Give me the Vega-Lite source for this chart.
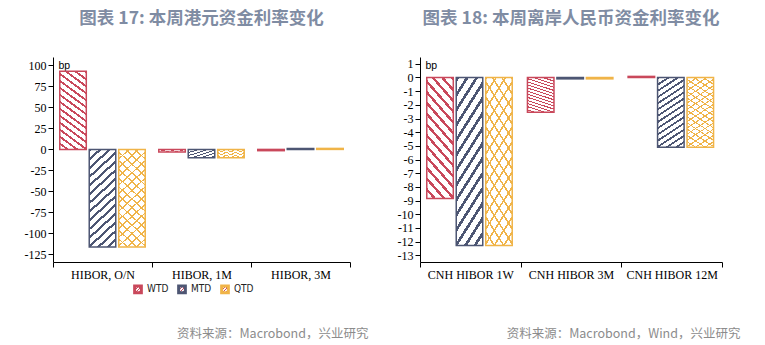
{
  "$schema": "https://vega.github.io/schema/vega-lite/v6.json",
  "padding": {"left": 24, "top": 9, "right": 5, "bottom": 5},
  "spacing": 70,
  "bounds": "flush",
  "config": {
    "view": {"stroke": null},
    "axis": {"grid": false, "domainColor": "#000", "tickColor": "#000", "labelColor": "#000", "labelFont": "Liberation Serif", "labelFontSize": 12, "tickSize": 5, "domainWidth": 1, "tickWidth": 1},
    "title": {"font": "Noto Sans CJK SC", "fontSize": 17.5, "fontWeight": "bold", "color": "#7F8CA3", "anchor": "middle", "frame": "group", "offset": 30},
    "legend": {"labelFont": "Liberation Sans Narrow, DejaVu Sans Condensed, sans-serif", "labelFontSize": 10, "labelColor": "#222", "symbolType": "square", "symbolSize": 45, "symbolStrokeWidth": 3, "columnPadding": 3, "labelOffset": 4, "padding": 0}
  },
  "hconcat": [
    {
      "width": 297, "height": 205,
      "title": {"text": "图表 17: 本周港元资金利率变化"},
      "data": {"values": [
        {"cat": "HIBOR, O/N", "s": "WTD", "v": 93},
        {"cat": "HIBOR, O/N", "s": "MTD", "v": -116},
        {"cat": "HIBOR, O/N", "s": "QTD", "v": -116},
        {"cat": "HIBOR, 1M", "s": "WTD", "v": -3},
        {"cat": "HIBOR, 1M", "s": "MTD", "v": -10},
        {"cat": "HIBOR, 1M", "s": "QTD", "v": -10},
        {"cat": "HIBOR, 3M", "s": "WTD", "v": -1.5},
        {"cat": "HIBOR, 3M", "s": "MTD", "v": 1.2},
        {"cat": "HIBOR, 3M", "s": "QTD", "v": 1.2}
      ]},
      "encoding": {
        "x": {"field": "cat", "type": "nominal", "sort": ["HIBOR, O/N", "HIBOR, 1M", "HIBOR, 3M"], "scale": {"paddingInner": 0, "paddingOuter": 0},
          "axis": {"title": "资料来源：Macrobond，兴业研究", "labelAngle": 0, "tickBand": "extent", "labelPadding": 2, "titleFont": "Noto Sans CJK SC", "titleFontSize": 12.5, "titleFontWeight": "normal", "titleColor": "#8C8C8C", "titleAnchor": "end", "titleAlign": "right", "titleBaseline": "middle", "titleX": 315, "titleY": 71}},
        "xOffset": {"field": "s", "type": "nominal", "scale": {"domain": ["WTD", "MTD", "QTD"], "paddingInner": 0.1, "paddingOuter": 0.23}},
        "y": {"field": "v", "type": "quantitative", "scale": {"domain": [-134, 110], "nice": false},
          "axis": {"values": [-125, -100, -75, -50, -25, 0, 25, 50, 75, 100], "labelExpr": "datum.value", "title": "bp", "titleAngle": 0, "titleX": 5, "titleY": 3, "titleAlign": "left", "titleBaseline": "top", "titleFont": "Liberation Sans", "titleFontSize": 10.5, "titleFontWeight": "normal", "titleColor": "#000"}},
        "y2": {"datum": 0}
      },
      "layer": [
        {"transform": [{"filter": "datum.s === 'WTD'"}],
         "mark": {"type": "bar", "strokeWidth": 1.5, "fill": {"gradient": "linear", "x1": 1, "y1": 0, "x2": 0.706, "y2": 1.176, "stops": [
           {"offset": 0, "color": "#C9485B"}, {"offset": 0.024, "color": "#C9485B"}, {"offset": 0.024, "color": "#fff"}, {"offset": 0.0714, "color": "#fff"},
           {"offset": 0.0714, "color": "#C9485B"}, {"offset": 0.0954, "color": "#C9485B"}, {"offset": 0.0954, "color": "#fff"}, {"offset": 0.1429, "color": "#fff"},
           {"offset": 0.1429, "color": "#C9485B"}, {"offset": 0.1669, "color": "#C9485B"}, {"offset": 0.1669, "color": "#fff"}, {"offset": 0.2143, "color": "#fff"},
           {"offset": 0.2143, "color": "#C9485B"}, {"offset": 0.2383, "color": "#C9485B"}, {"offset": 0.2383, "color": "#fff"}, {"offset": 0.2857, "color": "#fff"},
           {"offset": 0.2857, "color": "#C9485B"}, {"offset": 0.3097, "color": "#C9485B"}, {"offset": 0.3097, "color": "#fff"}, {"offset": 0.3571, "color": "#fff"},
           {"offset": 0.3571, "color": "#C9485B"}, {"offset": 0.3811, "color": "#C9485B"}, {"offset": 0.3811, "color": "#fff"}, {"offset": 0.4286, "color": "#fff"},
           {"offset": 0.4286, "color": "#C9485B"}, {"offset": 0.4526, "color": "#C9485B"}, {"offset": 0.4526, "color": "#fff"}, {"offset": 0.5, "color": "#fff"},
           {"offset": 0.5, "color": "#C9485B"}, {"offset": 0.524, "color": "#C9485B"}, {"offset": 0.524, "color": "#fff"}, {"offset": 0.5714, "color": "#fff"},
           {"offset": 0.5714, "color": "#C9485B"}, {"offset": 0.5954, "color": "#C9485B"}, {"offset": 0.5954, "color": "#fff"}, {"offset": 0.6429, "color": "#fff"},
           {"offset": 0.6429, "color": "#C9485B"}, {"offset": 0.6669, "color": "#C9485B"}, {"offset": 0.6669, "color": "#fff"}, {"offset": 0.7143, "color": "#fff"},
           {"offset": 0.7143, "color": "#C9485B"}, {"offset": 0.7383, "color": "#C9485B"}, {"offset": 0.7383, "color": "#fff"}, {"offset": 0.7857, "color": "#fff"},
           {"offset": 0.7857, "color": "#C9485B"}, {"offset": 0.8097, "color": "#C9485B"}, {"offset": 0.8097, "color": "#fff"}, {"offset": 0.8571, "color": "#fff"},
           {"offset": 0.8571, "color": "#C9485B"}, {"offset": 0.8811, "color": "#C9485B"}, {"offset": 0.8811, "color": "#fff"}, {"offset": 0.9286, "color": "#fff"},
           {"offset": 0.9286, "color": "#C9485B"}, {"offset": 0.9526, "color": "#C9485B"}, {"offset": 0.9526, "color": "#fff"}, {"offset": 1, "color": "#fff"}]}},
         "encoding": {"stroke": {"field": "s", "type": "nominal", "scale": {"domain": ["WTD", "MTD", "QTD"], "range": ["#C9485B", "#4D5673", "#F0B448"]},
           "legend": {"orient": "none", "legendX": 80, "legendY": 227, "direction": "horizontal", "title": null, "encode": {"symbols": {"update": {"fill": {"value": "#fff"}}}}}}}},
        {"transform": [{"filter": "datum.s === 'MTD'"}],
         "mark": {"type": "bar", "strokeWidth": 1.5, "fill": {"gradient": "linear", "x1": 0, "y1": 0, "x2": 0.294, "y2": 1.176, "stops": [
           {"offset": 0, "color": "#4D5673"}, {"offset": 0.024, "color": "#4D5673"}, {"offset": 0.024, "color": "#fff"}, {"offset": 0.0714, "color": "#fff"},
           {"offset": 0.0714, "color": "#4D5673"}, {"offset": 0.0954, "color": "#4D5673"}, {"offset": 0.0954, "color": "#fff"}, {"offset": 0.1429, "color": "#fff"},
           {"offset": 0.1429, "color": "#4D5673"}, {"offset": 0.1669, "color": "#4D5673"}, {"offset": 0.1669, "color": "#fff"}, {"offset": 0.2143, "color": "#fff"},
           {"offset": 0.2143, "color": "#4D5673"}, {"offset": 0.2383, "color": "#4D5673"}, {"offset": 0.2383, "color": "#fff"}, {"offset": 0.2857, "color": "#fff"},
           {"offset": 0.2857, "color": "#4D5673"}, {"offset": 0.3097, "color": "#4D5673"}, {"offset": 0.3097, "color": "#fff"}, {"offset": 0.3571, "color": "#fff"},
           {"offset": 0.3571, "color": "#4D5673"}, {"offset": 0.3811, "color": "#4D5673"}, {"offset": 0.3811, "color": "#fff"}, {"offset": 0.4286, "color": "#fff"},
           {"offset": 0.4286, "color": "#4D5673"}, {"offset": 0.4526, "color": "#4D5673"}, {"offset": 0.4526, "color": "#fff"}, {"offset": 0.5, "color": "#fff"},
           {"offset": 0.5, "color": "#4D5673"}, {"offset": 0.524, "color": "#4D5673"}, {"offset": 0.524, "color": "#fff"}, {"offset": 0.5714, "color": "#fff"},
           {"offset": 0.5714, "color": "#4D5673"}, {"offset": 0.5954, "color": "#4D5673"}, {"offset": 0.5954, "color": "#fff"}, {"offset": 0.6429, "color": "#fff"},
           {"offset": 0.6429, "color": "#4D5673"}, {"offset": 0.6669, "color": "#4D5673"}, {"offset": 0.6669, "color": "#fff"}, {"offset": 0.7143, "color": "#fff"},
           {"offset": 0.7143, "color": "#4D5673"}, {"offset": 0.7383, "color": "#4D5673"}, {"offset": 0.7383, "color": "#fff"}, {"offset": 0.7857, "color": "#fff"},
           {"offset": 0.7857, "color": "#4D5673"}, {"offset": 0.8097, "color": "#4D5673"}, {"offset": 0.8097, "color": "#fff"}, {"offset": 0.8571, "color": "#fff"},
           {"offset": 0.8571, "color": "#4D5673"}, {"offset": 0.8811, "color": "#4D5673"}, {"offset": 0.8811, "color": "#fff"}, {"offset": 0.9286, "color": "#fff"},
           {"offset": 0.9286, "color": "#4D5673"}, {"offset": 0.9526, "color": "#4D5673"}, {"offset": 0.9526, "color": "#fff"}, {"offset": 1, "color": "#fff"}]}},
         "encoding": {"stroke": {"field": "s", "type": "nominal", "scale": {"domain": ["WTD", "MTD", "QTD"], "range": ["#C9485B", "#4D5673", "#F0B448"]}}}},
        {"transform": [{"filter": "datum.s === 'QTD'"}],
         "mark": {"type": "bar", "strokeWidth": 1.5, "fill": {"gradient": "linear", "x1": 0, "y1": 0, "x2": 0.294, "y2": 1.176, "stops": [
           {"offset": 0, "color": "#F0B448"}, {"offset": 0.014, "color": "#F0B448"}, {"offset": 0.014, "color": "#fff"}, {"offset": 0.0714, "color": "#fff"},
           {"offset": 0.0714, "color": "#F0B448"}, {"offset": 0.0854, "color": "#F0B448"}, {"offset": 0.0854, "color": "#fff"}, {"offset": 0.1429, "color": "#fff"},
           {"offset": 0.1429, "color": "#F0B448"}, {"offset": 0.1569, "color": "#F0B448"}, {"offset": 0.1569, "color": "#fff"}, {"offset": 0.2143, "color": "#fff"},
           {"offset": 0.2143, "color": "#F0B448"}, {"offset": 0.2283, "color": "#F0B448"}, {"offset": 0.2283, "color": "#fff"}, {"offset": 0.2857, "color": "#fff"},
           {"offset": 0.2857, "color": "#F0B448"}, {"offset": 0.2997, "color": "#F0B448"}, {"offset": 0.2997, "color": "#fff"}, {"offset": 0.3571, "color": "#fff"},
           {"offset": 0.3571, "color": "#F0B448"}, {"offset": 0.3711, "color": "#F0B448"}, {"offset": 0.3711, "color": "#fff"}, {"offset": 0.4286, "color": "#fff"},
           {"offset": 0.4286, "color": "#F0B448"}, {"offset": 0.4426, "color": "#F0B448"}, {"offset": 0.4426, "color": "#fff"}, {"offset": 0.5, "color": "#fff"},
           {"offset": 0.5, "color": "#F0B448"}, {"offset": 0.514, "color": "#F0B448"}, {"offset": 0.514, "color": "#fff"}, {"offset": 0.5714, "color": "#fff"},
           {"offset": 0.5714, "color": "#F0B448"}, {"offset": 0.5854, "color": "#F0B448"}, {"offset": 0.5854, "color": "#fff"}, {"offset": 0.6429, "color": "#fff"},
           {"offset": 0.6429, "color": "#F0B448"}, {"offset": 0.6569, "color": "#F0B448"}, {"offset": 0.6569, "color": "#fff"}, {"offset": 0.7143, "color": "#fff"},
           {"offset": 0.7143, "color": "#F0B448"}, {"offset": 0.7283, "color": "#F0B448"}, {"offset": 0.7283, "color": "#fff"}, {"offset": 0.7857, "color": "#fff"},
           {"offset": 0.7857, "color": "#F0B448"}, {"offset": 0.7997, "color": "#F0B448"}, {"offset": 0.7997, "color": "#fff"}, {"offset": 0.8571, "color": "#fff"},
           {"offset": 0.8571, "color": "#F0B448"}, {"offset": 0.8711, "color": "#F0B448"}, {"offset": 0.8711, "color": "#fff"}, {"offset": 0.9286, "color": "#fff"},
           {"offset": 0.9286, "color": "#F0B448"}, {"offset": 0.9426, "color": "#F0B448"}, {"offset": 0.9426, "color": "#fff"}, {"offset": 1, "color": "#fff"}]}},
         "encoding": {"stroke": {"field": "s", "type": "nominal", "scale": {"domain": ["WTD", "MTD", "QTD"], "range": ["#C9485B", "#4D5673", "#F0B448"]}}}},
        {"transform": [{"filter": "datum.s === 'QTD'"}],
         "mark": {"type": "bar", "fill": {"gradient": "linear", "x1": 1, "y1": 0, "x2": 0.706, "y2": 1.176, "stops": [
           {"offset": 0, "color": "#F0B448"}, {"offset": 0.014, "color": "#F0B448"}, {"offset": 0.014, "color": "rgba(255,255,255,0)"}, {"offset": 0.0714, "color": "rgba(255,255,255,0)"},
           {"offset": 0.0714, "color": "#F0B448"}, {"offset": 0.0854, "color": "#F0B448"}, {"offset": 0.0854, "color": "rgba(255,255,255,0)"}, {"offset": 0.1429, "color": "rgba(255,255,255,0)"},
           {"offset": 0.1429, "color": "#F0B448"}, {"offset": 0.1569, "color": "#F0B448"}, {"offset": 0.1569, "color": "rgba(255,255,255,0)"}, {"offset": 0.2143, "color": "rgba(255,255,255,0)"},
           {"offset": 0.2143, "color": "#F0B448"}, {"offset": 0.2283, "color": "#F0B448"}, {"offset": 0.2283, "color": "rgba(255,255,255,0)"}, {"offset": 0.2857, "color": "rgba(255,255,255,0)"},
           {"offset": 0.2857, "color": "#F0B448"}, {"offset": 0.2997, "color": "#F0B448"}, {"offset": 0.2997, "color": "rgba(255,255,255,0)"}, {"offset": 0.3571, "color": "rgba(255,255,255,0)"},
           {"offset": 0.3571, "color": "#F0B448"}, {"offset": 0.3711, "color": "#F0B448"}, {"offset": 0.3711, "color": "rgba(255,255,255,0)"}, {"offset": 0.4286, "color": "rgba(255,255,255,0)"},
           {"offset": 0.4286, "color": "#F0B448"}, {"offset": 0.4426, "color": "#F0B448"}, {"offset": 0.4426, "color": "rgba(255,255,255,0)"}, {"offset": 0.5, "color": "rgba(255,255,255,0)"},
           {"offset": 0.5, "color": "#F0B448"}, {"offset": 0.514, "color": "#F0B448"}, {"offset": 0.514, "color": "rgba(255,255,255,0)"}, {"offset": 0.5714, "color": "rgba(255,255,255,0)"},
           {"offset": 0.5714, "color": "#F0B448"}, {"offset": 0.5854, "color": "#F0B448"}, {"offset": 0.5854, "color": "rgba(255,255,255,0)"}, {"offset": 0.6429, "color": "rgba(255,255,255,0)"},
           {"offset": 0.6429, "color": "#F0B448"}, {"offset": 0.6569, "color": "#F0B448"}, {"offset": 0.6569, "color": "rgba(255,255,255,0)"}, {"offset": 0.7143, "color": "rgba(255,255,255,0)"},
           {"offset": 0.7143, "color": "#F0B448"}, {"offset": 0.7283, "color": "#F0B448"}, {"offset": 0.7283, "color": "rgba(255,255,255,0)"}, {"offset": 0.7857, "color": "rgba(255,255,255,0)"},
           {"offset": 0.7857, "color": "#F0B448"}, {"offset": 0.7997, "color": "#F0B448"}, {"offset": 0.7997, "color": "rgba(255,255,255,0)"}, {"offset": 0.8571, "color": "rgba(255,255,255,0)"},
           {"offset": 0.8571, "color": "#F0B448"}, {"offset": 0.8711, "color": "#F0B448"}, {"offset": 0.8711, "color": "rgba(255,255,255,0)"}, {"offset": 0.9286, "color": "rgba(255,255,255,0)"},
           {"offset": 0.9286, "color": "#F0B448"}, {"offset": 0.9426, "color": "#F0B448"}, {"offset": 0.9426, "color": "rgba(255,255,255,0)"}, {"offset": 1, "color": "rgba(255,255,255,0)"}]}}}
      ]
    },
    {
      "width": 302, "height": 205,
      "title": {"text": "图表 18: 本周离岸人民币资金利率变化"},
      "data": {"values": [
        {"cat": "CNH HIBOR 1W", "s": "WTD", "v": -8.85},
        {"cat": "CNH HIBOR 1W", "s": "MTD", "v": -12.3},
        {"cat": "CNH HIBOR 1W", "s": "QTD", "v": -12.3},
        {"cat": "CNH HIBOR 3M", "s": "WTD", "v": -2.55},
        {"cat": "CNH HIBOR 3M", "s": "MTD", "v": -0.1},
        {"cat": "CNH HIBOR 3M", "s": "QTD", "v": -0.1},
        {"cat": "CNH HIBOR 12M", "s": "WTD", "v": 0.08},
        {"cat": "CNH HIBOR 12M", "s": "MTD", "v": -5.1},
        {"cat": "CNH HIBOR 12M", "s": "QTD", "v": -5.1}
      ]},
      "encoding": {
        "x": {"field": "cat", "type": "nominal", "sort": ["CNH HIBOR 1W", "CNH HIBOR 3M", "CNH HIBOR 12M"], "scale": {"paddingInner": 0, "paddingOuter": 0},
          "axis": {"title": "资料来源：Macrobond，Wind，兴业研究", "labelAngle": 0, "tickBand": "extent", "labelPadding": 2, "titleFont": "Noto Sans CJK SC", "titleFontSize": 12.5, "titleFontWeight": "normal", "titleColor": "#8C8C8C", "titleAnchor": "end", "titleAlign": "right", "titleBaseline": "middle", "titleX": 320, "titleY": 71}},
        "xOffset": {"field": "s", "type": "nominal", "scale": {"domain": ["WTD", "MTD", "QTD"], "paddingInner": 0.1, "paddingOuter": 0.23}},
        "y": {"field": "v", "type": "quantitative", "scale": {"domain": [-13.5, 1.5], "nice": false},
          "axis": {"values": [-13, -12, -11, -10, -9, -8, -7, -6, -5, -4, -3, -2, -1, 0, 1], "labelExpr": "datum.value", "title": "bp", "titleAngle": 0, "titleX": 5, "titleY": 3, "titleAlign": "left", "titleBaseline": "top", "titleFont": "Liberation Sans", "titleFontSize": 10.5, "titleFontWeight": "normal", "titleColor": "#000"}},
        "y2": {"datum": 0}
      },
      "layer": [
        {"transform": [{"filter": "datum.s === 'WTD'"}],
         "mark": {"type": "bar", "strokeWidth": 1.5, "fill": {"gradient": "linear", "x1": 1, "y1": 0, "x2": 0.706, "y2": 1.176, "stops": [
           {"offset": 0, "color": "#C9485B"}, {"offset": 0.024, "color": "#C9485B"}, {"offset": 0.024, "color": "#fff"}, {"offset": 0.0714, "color": "#fff"},
           {"offset": 0.0714, "color": "#C9485B"}, {"offset": 0.0954, "color": "#C9485B"}, {"offset": 0.0954, "color": "#fff"}, {"offset": 0.1429, "color": "#fff"},
           {"offset": 0.1429, "color": "#C9485B"}, {"offset": 0.1669, "color": "#C9485B"}, {"offset": 0.1669, "color": "#fff"}, {"offset": 0.2143, "color": "#fff"},
           {"offset": 0.2143, "color": "#C9485B"}, {"offset": 0.2383, "color": "#C9485B"}, {"offset": 0.2383, "color": "#fff"}, {"offset": 0.2857, "color": "#fff"},
           {"offset": 0.2857, "color": "#C9485B"}, {"offset": 0.3097, "color": "#C9485B"}, {"offset": 0.3097, "color": "#fff"}, {"offset": 0.3571, "color": "#fff"},
           {"offset": 0.3571, "color": "#C9485B"}, {"offset": 0.3811, "color": "#C9485B"}, {"offset": 0.3811, "color": "#fff"}, {"offset": 0.4286, "color": "#fff"},
           {"offset": 0.4286, "color": "#C9485B"}, {"offset": 0.4526, "color": "#C9485B"}, {"offset": 0.4526, "color": "#fff"}, {"offset": 0.5, "color": "#fff"},
           {"offset": 0.5, "color": "#C9485B"}, {"offset": 0.524, "color": "#C9485B"}, {"offset": 0.524, "color": "#fff"}, {"offset": 0.5714, "color": "#fff"},
           {"offset": 0.5714, "color": "#C9485B"}, {"offset": 0.5954, "color": "#C9485B"}, {"offset": 0.5954, "color": "#fff"}, {"offset": 0.6429, "color": "#fff"},
           {"offset": 0.6429, "color": "#C9485B"}, {"offset": 0.6669, "color": "#C9485B"}, {"offset": 0.6669, "color": "#fff"}, {"offset": 0.7143, "color": "#fff"},
           {"offset": 0.7143, "color": "#C9485B"}, {"offset": 0.7383, "color": "#C9485B"}, {"offset": 0.7383, "color": "#fff"}, {"offset": 0.7857, "color": "#fff"},
           {"offset": 0.7857, "color": "#C9485B"}, {"offset": 0.8097, "color": "#C9485B"}, {"offset": 0.8097, "color": "#fff"}, {"offset": 0.8571, "color": "#fff"},
           {"offset": 0.8571, "color": "#C9485B"}, {"offset": 0.8811, "color": "#C9485B"}, {"offset": 0.8811, "color": "#fff"}, {"offset": 0.9286, "color": "#fff"},
           {"offset": 0.9286, "color": "#C9485B"}, {"offset": 0.9526, "color": "#C9485B"}, {"offset": 0.9526, "color": "#fff"}, {"offset": 1, "color": "#fff"}]}},
         "encoding": {"stroke": {"field": "s", "type": "nominal", "scale": {"domain": ["WTD", "MTD", "QTD"], "range": ["#C9485B", "#4D5673", "#F0B448"]},
           "legend": {"orient": "none", "legendX": 87, "legendY": 227, "direction": "horizontal", "title": null, "encode": {"symbols": {"update": {"fill": {"value": "#fff"}}}}}}}},
        {"transform": [{"filter": "datum.s === 'MTD'"}],
         "mark": {"type": "bar", "strokeWidth": 1.5, "fill": {"gradient": "linear", "x1": 0, "y1": 0, "x2": 0.294, "y2": 1.176, "stops": [
           {"offset": 0, "color": "#4D5673"}, {"offset": 0.024, "color": "#4D5673"}, {"offset": 0.024, "color": "#fff"}, {"offset": 0.0714, "color": "#fff"},
           {"offset": 0.0714, "color": "#4D5673"}, {"offset": 0.0954, "color": "#4D5673"}, {"offset": 0.0954, "color": "#fff"}, {"offset": 0.1429, "color": "#fff"},
           {"offset": 0.1429, "color": "#4D5673"}, {"offset": 0.1669, "color": "#4D5673"}, {"offset": 0.1669, "color": "#fff"}, {"offset": 0.2143, "color": "#fff"},
           {"offset": 0.2143, "color": "#4D5673"}, {"offset": 0.2383, "color": "#4D5673"}, {"offset": 0.2383, "color": "#fff"}, {"offset": 0.2857, "color": "#fff"},
           {"offset": 0.2857, "color": "#4D5673"}, {"offset": 0.3097, "color": "#4D5673"}, {"offset": 0.3097, "color": "#fff"}, {"offset": 0.3571, "color": "#fff"},
           {"offset": 0.3571, "color": "#4D5673"}, {"offset": 0.3811, "color": "#4D5673"}, {"offset": 0.3811, "color": "#fff"}, {"offset": 0.4286, "color": "#fff"},
           {"offset": 0.4286, "color": "#4D5673"}, {"offset": 0.4526, "color": "#4D5673"}, {"offset": 0.4526, "color": "#fff"}, {"offset": 0.5, "color": "#fff"},
           {"offset": 0.5, "color": "#4D5673"}, {"offset": 0.524, "color": "#4D5673"}, {"offset": 0.524, "color": "#fff"}, {"offset": 0.5714, "color": "#fff"},
           {"offset": 0.5714, "color": "#4D5673"}, {"offset": 0.5954, "color": "#4D5673"}, {"offset": 0.5954, "color": "#fff"}, {"offset": 0.6429, "color": "#fff"},
           {"offset": 0.6429, "color": "#4D5673"}, {"offset": 0.6669, "color": "#4D5673"}, {"offset": 0.6669, "color": "#fff"}, {"offset": 0.7143, "color": "#fff"},
           {"offset": 0.7143, "color": "#4D5673"}, {"offset": 0.7383, "color": "#4D5673"}, {"offset": 0.7383, "color": "#fff"}, {"offset": 0.7857, "color": "#fff"},
           {"offset": 0.7857, "color": "#4D5673"}, {"offset": 0.8097, "color": "#4D5673"}, {"offset": 0.8097, "color": "#fff"}, {"offset": 0.8571, "color": "#fff"},
           {"offset": 0.8571, "color": "#4D5673"}, {"offset": 0.8811, "color": "#4D5673"}, {"offset": 0.8811, "color": "#fff"}, {"offset": 0.9286, "color": "#fff"},
           {"offset": 0.9286, "color": "#4D5673"}, {"offset": 0.9526, "color": "#4D5673"}, {"offset": 0.9526, "color": "#fff"}, {"offset": 1, "color": "#fff"}]}},
         "encoding": {"stroke": {"field": "s", "type": "nominal", "scale": {"domain": ["WTD", "MTD", "QTD"], "range": ["#C9485B", "#4D5673", "#F0B448"]}}}},
        {"transform": [{"filter": "datum.s === 'QTD'"}],
         "mark": {"type": "bar", "strokeWidth": 1.5, "fill": {"gradient": "linear", "x1": 0, "y1": 0, "x2": 0.294, "y2": 1.176, "stops": [
           {"offset": 0, "color": "#F0B448"}, {"offset": 0.014, "color": "#F0B448"}, {"offset": 0.014, "color": "#fff"}, {"offset": 0.0714, "color": "#fff"},
           {"offset": 0.0714, "color": "#F0B448"}, {"offset": 0.0854, "color": "#F0B448"}, {"offset": 0.0854, "color": "#fff"}, {"offset": 0.1429, "color": "#fff"},
           {"offset": 0.1429, "color": "#F0B448"}, {"offset": 0.1569, "color": "#F0B448"}, {"offset": 0.1569, "color": "#fff"}, {"offset": 0.2143, "color": "#fff"},
           {"offset": 0.2143, "color": "#F0B448"}, {"offset": 0.2283, "color": "#F0B448"}, {"offset": 0.2283, "color": "#fff"}, {"offset": 0.2857, "color": "#fff"},
           {"offset": 0.2857, "color": "#F0B448"}, {"offset": 0.2997, "color": "#F0B448"}, {"offset": 0.2997, "color": "#fff"}, {"offset": 0.3571, "color": "#fff"},
           {"offset": 0.3571, "color": "#F0B448"}, {"offset": 0.3711, "color": "#F0B448"}, {"offset": 0.3711, "color": "#fff"}, {"offset": 0.4286, "color": "#fff"},
           {"offset": 0.4286, "color": "#F0B448"}, {"offset": 0.4426, "color": "#F0B448"}, {"offset": 0.4426, "color": "#fff"}, {"offset": 0.5, "color": "#fff"},
           {"offset": 0.5, "color": "#F0B448"}, {"offset": 0.514, "color": "#F0B448"}, {"offset": 0.514, "color": "#fff"}, {"offset": 0.5714, "color": "#fff"},
           {"offset": 0.5714, "color": "#F0B448"}, {"offset": 0.5854, "color": "#F0B448"}, {"offset": 0.5854, "color": "#fff"}, {"offset": 0.6429, "color": "#fff"},
           {"offset": 0.6429, "color": "#F0B448"}, {"offset": 0.6569, "color": "#F0B448"}, {"offset": 0.6569, "color": "#fff"}, {"offset": 0.7143, "color": "#fff"},
           {"offset": 0.7143, "color": "#F0B448"}, {"offset": 0.7283, "color": "#F0B448"}, {"offset": 0.7283, "color": "#fff"}, {"offset": 0.7857, "color": "#fff"},
           {"offset": 0.7857, "color": "#F0B448"}, {"offset": 0.7997, "color": "#F0B448"}, {"offset": 0.7997, "color": "#fff"}, {"offset": 0.8571, "color": "#fff"},
           {"offset": 0.8571, "color": "#F0B448"}, {"offset": 0.8711, "color": "#F0B448"}, {"offset": 0.8711, "color": "#fff"}, {"offset": 0.9286, "color": "#fff"},
           {"offset": 0.9286, "color": "#F0B448"}, {"offset": 0.9426, "color": "#F0B448"}, {"offset": 0.9426, "color": "#fff"}, {"offset": 1, "color": "#fff"}]}},
         "encoding": {"stroke": {"field": "s", "type": "nominal", "scale": {"domain": ["WTD", "MTD", "QTD"], "range": ["#C9485B", "#4D5673", "#F0B448"]}}}},
        {"transform": [{"filter": "datum.s === 'QTD'"}],
         "mark": {"type": "bar", "fill": {"gradient": "linear", "x1": 1, "y1": 0, "x2": 0.706, "y2": 1.176, "stops": [
           {"offset": 0, "color": "#F0B448"}, {"offset": 0.014, "color": "#F0B448"}, {"offset": 0.014, "color": "rgba(255,255,255,0)"}, {"offset": 0.0714, "color": "rgba(255,255,255,0)"},
           {"offset": 0.0714, "color": "#F0B448"}, {"offset": 0.0854, "color": "#F0B448"}, {"offset": 0.0854, "color": "rgba(255,255,255,0)"}, {"offset": 0.1429, "color": "rgba(255,255,255,0)"},
           {"offset": 0.1429, "color": "#F0B448"}, {"offset": 0.1569, "color": "#F0B448"}, {"offset": 0.1569, "color": "rgba(255,255,255,0)"}, {"offset": 0.2143, "color": "rgba(255,255,255,0)"},
           {"offset": 0.2143, "color": "#F0B448"}, {"offset": 0.2283, "color": "#F0B448"}, {"offset": 0.2283, "color": "rgba(255,255,255,0)"}, {"offset": 0.2857, "color": "rgba(255,255,255,0)"},
           {"offset": 0.2857, "color": "#F0B448"}, {"offset": 0.2997, "color": "#F0B448"}, {"offset": 0.2997, "color": "rgba(255,255,255,0)"}, {"offset": 0.3571, "color": "rgba(255,255,255,0)"},
           {"offset": 0.3571, "color": "#F0B448"}, {"offset": 0.3711, "color": "#F0B448"}, {"offset": 0.3711, "color": "rgba(255,255,255,0)"}, {"offset": 0.4286, "color": "rgba(255,255,255,0)"},
           {"offset": 0.4286, "color": "#F0B448"}, {"offset": 0.4426, "color": "#F0B448"}, {"offset": 0.4426, "color": "rgba(255,255,255,0)"}, {"offset": 0.5, "color": "rgba(255,255,255,0)"},
           {"offset": 0.5, "color": "#F0B448"}, {"offset": 0.514, "color": "#F0B448"}, {"offset": 0.514, "color": "rgba(255,255,255,0)"}, {"offset": 0.5714, "color": "rgba(255,255,255,0)"},
           {"offset": 0.5714, "color": "#F0B448"}, {"offset": 0.5854, "color": "#F0B448"}, {"offset": 0.5854, "color": "rgba(255,255,255,0)"}, {"offset": 0.6429, "color": "rgba(255,255,255,0)"},
           {"offset": 0.6429, "color": "#F0B448"}, {"offset": 0.6569, "color": "#F0B448"}, {"offset": 0.6569, "color": "rgba(255,255,255,0)"}, {"offset": 0.7143, "color": "rgba(255,255,255,0)"},
           {"offset": 0.7143, "color": "#F0B448"}, {"offset": 0.7283, "color": "#F0B448"}, {"offset": 0.7283, "color": "rgba(255,255,255,0)"}, {"offset": 0.7857, "color": "rgba(255,255,255,0)"},
           {"offset": 0.7857, "color": "#F0B448"}, {"offset": 0.7997, "color": "#F0B448"}, {"offset": 0.7997, "color": "rgba(255,255,255,0)"}, {"offset": 0.8571, "color": "rgba(255,255,255,0)"},
           {"offset": 0.8571, "color": "#F0B448"}, {"offset": 0.8711, "color": "#F0B448"}, {"offset": 0.8711, "color": "rgba(255,255,255,0)"}, {"offset": 0.9286, "color": "rgba(255,255,255,0)"},
           {"offset": 0.9286, "color": "#F0B448"}, {"offset": 0.9426, "color": "#F0B448"}, {"offset": 0.9426, "color": "rgba(255,255,255,0)"}, {"offset": 1, "color": "rgba(255,255,255,0)"}]}}}
      ]
    }
  ]
}
